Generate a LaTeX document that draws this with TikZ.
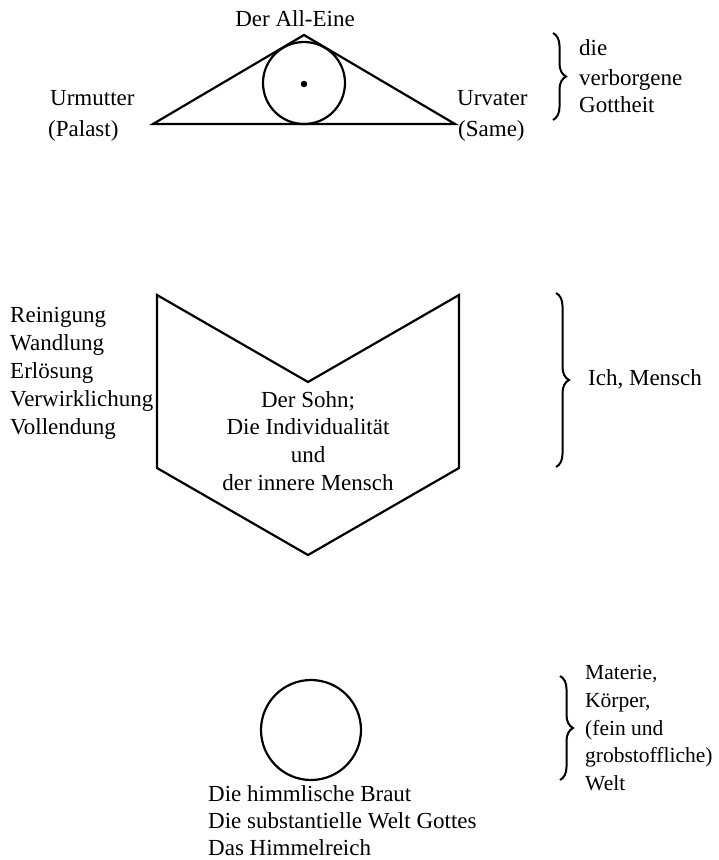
\documentclass[tikz,border=0pt]{standalone}
\usepackage{fontspec}
\setmainfont{Liberation Serif}
\usetikzlibrary{decorations.pathreplacing}
\begin{document}
\begin{tikzpicture}[x=1pt,y=-1pt,
  lbl/.style={inner sep=0pt, font=\fontsize{23}{27}\selectfont},
  lbls/.style={inner sep=0pt, font=\fontsize{21.5}{27}\selectfont},
  shp/.style={draw, line width=2.2pt, line join=miter},
  brc/.style={draw, line width=2pt, decorate, decoration={brace, amplitude=13pt}}]
\useasboundingbox (0,0) rectangle (719,860);
% --- top: triangle with eye
\coordinate (tl) at (153,124);
\coordinate (tr) at (455,124);
\coordinate (ta) at (304,35);
\draw[shp] (tl) -- (ta) -- (tr) -- cycle;
\node[circle, draw, line width=2.2pt, minimum size=82pt, inner sep=0pt] (eye) at (304,83) {};
\node[circle, fill, minimum size=6.5pt, inner sep=0pt] (dot) at (304,84) {};
\node[lbl, anchor=base] (allone) at (295,26) {Der All-Eine};
\node[lbl, anchor=base west] (um1) at (50,105) {Urmutter};
\node[lbl, anchor=base west] (um2) at (48,136) {(Palast)};
\node[lbl, anchor=base west] (uv1) at (457,105) {Urvater};
\node[lbl, anchor=base west] (uv2) at (458,136) {(Same)};
\coordinate (b1t) at (553,33);
\coordinate (b1b) at (553,120);
\draw[brc] (b1t) -- (b1b);
\node[lbl, anchor=base west] (g1) at (579,55) {die};
\node[lbl, anchor=base west] (g2) at (579,85) {verborgene};
\node[lbl, anchor=base west] (g3) at (579,112) {Gottheit};
% --- middle: chevron shape
\coordinate (p1) at (157,295);
\coordinate (p2) at (308,382);
\coordinate (p3) at (459,295);
\coordinate (p4) at (459,468);
\coordinate (p5) at (308,555);
\coordinate (p6) at (157,468);
\draw[shp] (p1) -- (p2) -- (p3) -- (p4) -- (p5) -- (p6) -- cycle;
\node[lbl, anchor=base] (s1) at (308,407) {Der Sohn;};
\node[lbl, anchor=base] (s2) at (308,434) {Die Individualität};
\node[lbl, anchor=base] (s3) at (308,462) {und};
\node[lbl, anchor=base] (s4) at (308,490) {der innere Mensch};
\node[lbl, anchor=base west] (w1) at (10,322) {Reinigung};
\node[lbl, anchor=base west] (w2) at (10,350) {Wandlung};
\node[lbl, anchor=base west] (w3) at (10,378) {Erlösung};
\node[lbl, anchor=base west] (w4) at (10,406) {Verwirklichung};
\node[lbl, anchor=base west] (w5) at (10,434) {Vollendung};
\coordinate (b2t) at (556,293);
\coordinate (b2b) at (556,467);
\draw[brc] (b2t) -- (b2b);
\node[lbl, anchor=base west] (ich) at (588,385) {Ich, Mensch};
% --- bottom: circle
\node[circle, draw, line width=2.2pt, minimum size=100pt, inner sep=0pt] (welt) at (311,730) {};
\node[lbl, anchor=base west] (h1) at (208,801) {Die himmlische Braut};
\node[lbl, anchor=base west] (h2) at (208,828) {Die substantielle Welt Gottes};
\node[lbl, anchor=base west] (h3) at (208,855) {Das Himmelreich};
\coordinate (b3t) at (560,676);
\coordinate (b3b) at (560,780);
\draw[brc] (b3t) -- (b3b);
\node[lbls, anchor=base west] (m1) at (585,679) {Materie,};
\node[lbls, anchor=base west] (m2) at (585,707) {Körper,};
\node[lbls, anchor=base west] (m3) at (585,735) {(fein und};
\node[lbls, anchor=base west] (m4) at (585,762) {grobstoffliche)};
\node[lbls, anchor=base west] (m5) at (585,790) {Welt};
\end{tikzpicture}
\end{document}
